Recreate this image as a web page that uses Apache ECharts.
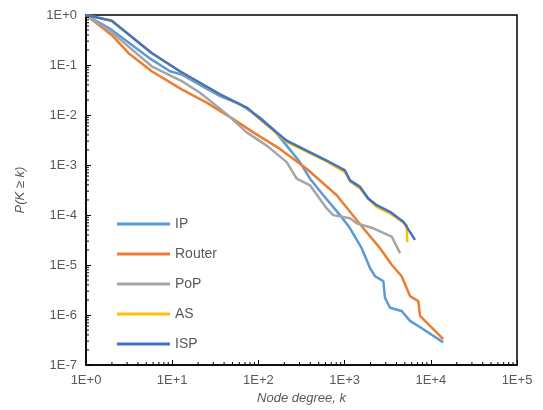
<!DOCTYPE html>
<html>
<head>
<meta charset="utf-8">
<script src="https://cdn.jsdelivr.net/npm/echarts@6/dist/echarts.min.js"></script>
<style>html,body{margin:0;padding:0;background:#fff;}#c{width:543px;height:410px;}</style>
</head>
<body>
<div id="c"></div>
<script>
var seriesNames = ['IP', 'Router', 'PoP', 'AS', 'ISP'];
var seriesColors = ['#5B9BD5', '#ED7D31', '#A5A5A5', '#FFC000', '#4472C4'];

var ipData = [[1,1],[1.99,0.504],[5.78,0.128],[9.43,0.075],[12.9,0.0645],[17.6,0.0475],[35.9,0.0239],[61.2,0.0164],[104,0.00892],[148,0.00522],[213,0.00244],[304,0.00113],[397,0.000532],[566,0.000248],[885,0.0000995],[1156,0.0000542],[1578,0.0000217],[1971,0.0000087],[2253,0.00000597],[2813,0.00000475],[2943,0.00000221],[3362,0.0000014],[4593,0.0000012],[5738,0.000000764],[8190,0.00000052],[13960,0.000000283]];
var routerData = [[1,1],[2.03,0.383],[3.10,0.174],[5.78,0.075],[12.9,0.0325],[25.1,0.0177],[51.2,0.00826],[87.3,0.0045],[178,0.0021],[363,0.00084],[810,0.000248],[1156,0.000116],[1648,0.0000542],[2575,0.0000217],[3517,0.0000101],[4593,0.00000597],[5738,0.00000239],[7161,0.0000019],[7499,0.00000096],[13960,0.00000033]];
var popData = [[1,1],[1.99,0.45],[5.78,0.0942],[12.9,0.0475],[21.0,0.0279],[42.9,0.0104],[73.2,0.0045],[125,0.00244],[213,0.00114],[278,0.000532],[397,0.000392],[620,0.000135],[739,0.0000995],[1156,0.0000857],[1381,0.0000681],[2153,0.0000542],[3517,0.0000371],[4395,0.0000173]];
var asData = [[1,1],[1.99,0.77],[5.78,0.172],[12.3,0.074],[21.0,0.0436],[35.9,0.0255],[73.2,0.0138],[125,0.0063],[213,0.0029],[363,0.00186],[620,0.00118],[1010,0.00072],[1156,0.00047],[1510,0.00034],[1884,0.00021],[2356,0.000145],[3362,0.000108],[5250,0.0000631],[5340,0.0000286]];
var ispData = [[1,1],[1.99,0.77],[5.78,0.174],[12.3,0.075],[21.0,0.0442],[35.9,0.0259],[73.2,0.0141],[125,0.00657],[213,0.00306],[363,0.00194],[620,0.00123],[1010,0.000778],[1156,0.000492],[1510,0.000365],[1884,0.000213],[2356,0.000157],[3362,0.000116],[4800,0.0000736],[6560,0.0000318]];
var allData = [ipData, routerData, popData, asData, ispData];

var xDecades = [1, 10, 100, 1000, 10000];
var yDecades = [1e-7, 1e-6, 1e-5, 1e-4, 1e-3, 1e-2, 1e-1];
var minorMult = [2,3,4,5,6,7,8,9];

var xMinor = [];
xDecades.forEach(function(d){ minorMult.forEach(function(m){ xMinor.push([m*d, 1e-7]); }); });
var yMinor = [];
yDecades.forEach(function(d){ minorMult.forEach(function(m){ yMinor.push([1, m*d]); }); });

function fmt(v){
  var e = Math.round(Math.log10(v));
  return '1E' + (e >= 0 ? '+' : '') + e;
}

var chart = echarts.init(document.getElementById('c'), null, {renderer:'canvas'});
var series = seriesNames.map(function(n, i){
  return {
    name: n, type: 'line', data: allData[i], showSymbol: false, symbol: 'none',
    lineStyle: {color: seriesColors[i], width: 2.5}, itemStyle: {color: seriesColors[i]},
    z: 2 + i, animation: false
  };
});
series.push({
  type: 'custom', silent: true, clip: false, data: xMinor, z: 10, animation: false,
  renderItem: function(params, api){
    var p = api.coord([api.value(0), api.value(1)]);
    return {type:'line', shape:{x1:p[0], y1:p[1], x2:p[0], y2:p[1]-3}, style:{stroke:'#000', lineWidth:1}};
  }
});
series.push({
  type: 'custom', silent: true, clip: false, data: yMinor, z: 10, animation: false,
  renderItem: function(params, api){
    var p = api.coord([api.value(0), api.value(1)]);
    return {type:'line', shape:{x1:p[0], y1:p[1], x2:p[0]+3, y2:p[1]}, style:{stroke:'#000', lineWidth:1}};
  }
});

chart.setOption({
  animation: false,
  backgroundColor: '#fff',
  grid: {left: 86, right: 26, top: 15, bottom: 41, show: true, borderColor: '#000', borderWidth: 1.5, backgroundColor: 'transparent'},
  legend: {
    data: seriesNames, orient: 'vertical', left: 117, top: 217, padding: 0,
    icon: 'rect', itemWidth: 53, itemHeight: 3, itemGap: 16,
    textStyle: {color: '#595959', fontSize: 14, fontFamily: 'Liberation Sans, Arial, sans-serif'}
  },
  xAxis: {
    type: 'log', logBase: 10, min: 1, max: 100000,
    name: 'Node degree, k', nameLocation: 'middle', nameGap: 27,
    nameTextStyle: {color: '#595959', fontSize: 13, fontStyle: 'italic', fontFamily: 'Liberation Sans, Arial, sans-serif'},
    axisLine: {show: true, lineStyle: {color: '#000', width: 1.5}},
    axisTick: {show: true, inside: true, length: 5, lineStyle: {color: '#000'}},
    axisLabel: {formatter: fmt, color: '#595959', fontSize: 13, margin: 9, fontFamily: 'Liberation Sans, Arial, sans-serif'},
    splitLine: {show: false}
  },
  yAxis: {
    type: 'log', logBase: 10, min: 1e-7, max: 1,
    name: 'P(K \u2265 k)', nameLocation: 'middle', nameGap: 59,
    nameTextStyle: {color: '#595959', fontSize: 13, fontStyle: 'italic', fontFamily: 'Liberation Sans, Arial, sans-serif'},
    axisLine: {show: true, lineStyle: {color: '#000', width: 1.5}},
    axisTick: {show: true, inside: true, length: 5, lineStyle: {color: '#000'}},
    axisLabel: {formatter: fmt, color: '#595959', fontSize: 13, margin: 9, fontFamily: 'Liberation Sans, Arial, sans-serif'},
    splitLine: {show: false}
  },
  series: series
});
</script>
</body>
</html>
